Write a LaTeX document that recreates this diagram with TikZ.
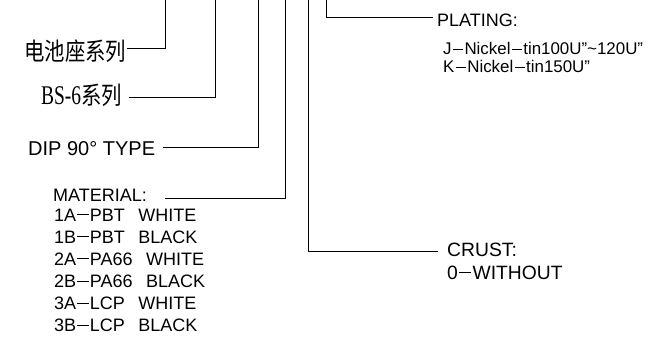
\documentclass[tikz,border=0pt]{standalone}
\usepackage{fontspec}
\setmainfont{Liberation Sans}
\newfontfamily\cjk{Noto Sans CJK SC}
\newfontfamily\serifnarrow{Liberation Serif}
\newcommand{\cadash}{\hspace{0.07em}\rule[0.33em]{0.62em}{0.9pt}\hspace{0.07em}}
\newcommand{\dq}{\char"22\relax}
\begin{document}
\begin{tikzpicture}[x=1pt,y=1pt,
  wire/.style={line width=0.9pt,black},
  lbl/.style={anchor=base west,inner sep=0pt,font=\fontsize{18}{18}\selectfont},
  biglbl/.style={lbl,font=\fontsize{20}{20}\selectfont},
  crustlbl/.style={lbl,font=\fontsize{19.3}{19.3}\selectfont},
  smalllbl/.style={lbl,font=\fontsize{16.9}{16.9}\selectfont},
  cjklbl/.style={anchor=base west,inner sep=0pt,font=\fontsize{20.4}{20.4}\cjk}]
\useasboundingbox (0,0) rectangle (669,-337);
% labels
\node[cjklbl] (n1) at (24,-60) {\scalebox{1}[1.2]{电池座系列}};
\node[cjklbl] (n2) at (41,-104) {\scalebox{0.72}[1]{\fontsize{27}{27}\serifnarrow BS-6}\scalebox{1}[1.2]{系列}};
\node[biglbl] (n3) at (28,-155) {DIP 90° TYPE};
\node[lbl] (n4) at (53,-201) {MATERIAL:};
\node[lbl] (m1) at (54,-221) {1A\cadash PBT\hspace{0.75em}WHITE};
\node[lbl] (m2) at (54,-243.1) {1B\cadash PBT\hspace{0.75em}BLACK};
\node[lbl] (m3) at (54,-265.3) {2A\cadash PA66\hspace{0.75em}WHITE};
\node[lbl] (m4) at (54,-287.4) {2B\cadash PA66\hspace{0.75em}BLACK};
\node[lbl] (m5) at (54,-309.6) {3A\cadash LCP\hspace{0.75em}WHITE};
\node[lbl] (m6) at (54,-331.7) {3B\cadash LCP\hspace{0.75em}BLACK};
\node[lbl] (n6) at (437,-27) {PLATING:};
\node[smalllbl] (p1) at (443,-55) {J\cadash Nickel\cadash tin100U\dq\textasciitilde120U\dq};
\node[smalllbl] (p2) at (443,-73) {K\cadash Nickel\cadash tin150U\dq};
\node[crustlbl] (n5) at (447,-256) {CRUST:};
\node[crustlbl] (c1) at (447,-279) {0\cadash WITHOUT};
% connector ends
\coordinate (t1) at (165,0);   \coordinate (e1) at (127,-48);
\coordinate (t2) at (215,0);   \coordinate (e2) at (129,-97);
\coordinate (t3) at (258,0);   \coordinate (e3) at (163,-147);
\coordinate (t4) at (285,0);   \coordinate (e4) at (165,-198);
\coordinate (t5) at (308,0);   \coordinate (e5) at (438,-251);
\coordinate (t6) at (326,0);   \coordinate (e6) at (433,-17);
\draw[wire] (t1) |- (e1);
\draw[wire] (t2) |- (e2);
\draw[wire] (t3) |- (e3);
\draw[wire] (t4) |- (e4);
\draw[wire] (t5) |- (e5);
\draw[wire] (t6) |- (e6);
\end{tikzpicture}
\end{document}
